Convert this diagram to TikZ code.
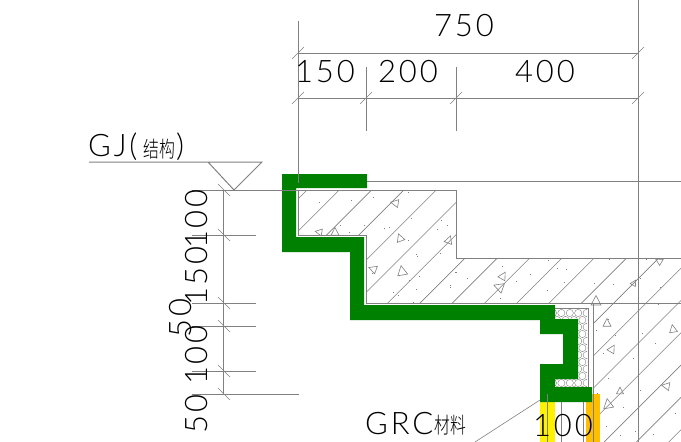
\documentclass[tikz,border=0pt]{standalone}
\usepackage{fontspec}
\newfontfamily\cadfont[LetterSpace=9]{Lato Light}
\newfontfamily\cjkfont{Noto Sans CJK SC Light}
\usepackage{tikz}
\definecolor{cadgray}{RGB}{128,128,128}
\definecolor{cadgreen}{RGB}{0,128,0}
\definecolor{cadorange}{RGB}{255,191,0}

\begin{document}
\begin{tikzpicture}[
      x=1pt, y=-1pt,
      cadline/.style={draw=cadgray, line width=1pt},
      thinline/.style={draw=cadgray, line width=0.6pt},
      dim/.style={font=\cadfont\fontsize{31}{31}\selectfont, inner sep=0pt},
      dimv/.style={dim, rotate=90},
      cjk/.style={font=\cjkfont\fontsize{22}{22}\selectfont, inner sep=0pt, xscale=0.72}
    ]
      \useasboundingbox (0,0) rectangle (681,442);
      % Concrete hatching
      \begin{scope}
        \clip (298,190) -- (456,190) -- (456,258) -- (681,258) -- (681,442) -- (593,442)
          -- (593,303) -- (366,303) -- (366,235) -- (298,235) -- cycle;
        \foreach \k in {0,...,19}
          \draw[thinline] ({497+32.3*\k},0) -- ({497+32.3*\k-442},442);
      \end{scope}
      % Aggregate
      \foreach \tx/\ty/\ta/\ts in {319/232/80/3.5,335/232/0/4,395/203/80/4,400/238/20/4,449/240/-20/4,
          373/269/70/4,402/271/10/5,503/276/-30/4,499/287/70/5,596/301/0/5,659/261/60/3.5,
          634/283/-30/3,607/323/0/4,673/329/10/4,612/349/-30/4,620/391/0/3.5,
          608/404/10/5,666/386/80/4}
        \draw[thinline, shift={(\tx,\ty)}, rotate=\ta, scale=\ts] (0,-1.1) -- (1,0.8) -- (-1,0.8) -- cycle;
      \foreach \dx/\dy in {319/202,351/200,373/197,408/192,411/218,441/220,447/225,437/229,389/227,384/228,
          340/225,364/225,349/232,408/240,416/254,417/256,440/253,456/272,467/278,419/276,409/280,450/285,
          450/287,393/292,398/295,416/289,413/302,372/273,502/266,455/272,530/274,557/268,566/269,516/281,
          564/282,547/290,500/298,594/283,613/284,620/296,640/278,660/287,658/304,609/259,548/260,622/262,
          646/259,593/315,608/319,596/330,615/335,642/333,633/358,655/343,608/378,640/390,623/407,606/426,
          620/435,635/431,675/413,653/434,597/393,603/353}
        \fill[cadgray] (\dx-0.5,\dy-0.5) rectangle (\dx+0.5,\dy+0.5);
      % Concrete outline
      \draw[cadline] (456,190) -- (456,258) -- (681,258);
      \draw[cadline] (298,190) -- (298,235) -- (366,235) -- (366,303) -- (681,303);
      \draw[cadline] (593,303) -- (593,442);
      \draw[cadline] (638,0) -- (638,442);
      % Insulation
      \begin{scope}
        \clip (555,308) -- (587,308) -- (587,387) -- (555,387) -- (555,379) -- (578,379)
          -- (578,319) -- (555,319) -- cycle;
        \foreach \i in {0,...,5}
          \foreach \j in {0,...,12} {
            \draw[draw=cadgray, line width=0.4pt] ({553+8.4*\i+4.2*mod(\j,2)},{313+7*\j}) circle (3.6);
          }
      \end{scope}
      \draw[cadline] (555,308) -- (588,308) -- (588,387);
      % Finish strips
      \fill[yellow] (540,402) rectangle (555,442);
      \fill[cadorange] (586,394) rectangle (600,442);
      \draw[cadline] (593,394) -- (593,442);
      % GRC profile
      \fill[cadgreen] (282,174) -- (367,174) -- (367,188) -- (296,188) -- (296,237) -- (364,237)
        -- (364,305) -- (555,305) -- (555,319) -- (578,319) -- (578,379) -- (555,379) -- (555,387)
        -- (592,387) -- (592,402) -- (540,402) -- (540,364) -- (563,364) -- (563,334) -- (540,334)
        -- (540,320) -- (350,320) -- (350,252) -- (282,252) -- cycle;
      % Dimension lines, top
      \draw[cadline] (298,21) -- (298,183);
      \draw[cadline] (366,67) -- (366,131);
      \draw[cadline] (456,67) -- (456,131);
      \draw[cadline] (298,53) -- (638,53);
      \draw[cadline] (298,98) -- (638,98);
      \draw[cadline] (367,181) -- (681,181);
      \foreach \tx/\ty in {298/53,638/53,298/98,366/98,456/98,638/98}
        \draw[thinline] (\tx-6,\ty+6) -- (\tx+6,\ty-6);
      % Dimension lines, left
      \draw[cadline] (223,190) -- (223,394);
      \draw[cadline] (192,190) -- (456,190);
      \foreach \ty in {235,303,326,371}
        \draw[cadline] (192,\ty) -- (256,\ty);
      \draw[cadline] (192,394) -- (299,394);
      \foreach \ty in {190,235,303,326,371,394}
        \draw[thinline] (218,\ty-6) -- (230,\ty+6);
      % Level mark
      \draw[cadline] (89,162) -- (262,162) -- (234,190) -- (208,162);
      % Bottom lines
      \draw[cadline] (547,394) -- (547,442);
      \draw[cadline] (561,402) -- (561,442);
      \draw[cadline] (583,402) -- (583,442);
      \draw[thinline] (475,442) -- (540,400);
      % Labels
      \node[dim] (dimall) at (464,26) {750};
      \node[dim] (dima) at (325,72) {150};
      \node[dim] (dimb) at (408,72) {200};
      \node[dim] (dimc) at (545,72) {400};
      \node[dimv] (dimd) at (197,219) {100};
      \node[dimv] (dime) at (197,276) {150};
      \node[dimv] (dimf) at (181,318) {50};
      \node[dimv] (dimg) at (197,355) {100};
      \node[dimv] (dimh) at (197,414) {50};
      \node[dim] (dimi) at (563,426) {100};
      \node[dim, anchor=west] (level) at (88,147) {GJ(};
      \node[cjk] (levelcn) at (159,149) {结构};
      \node[dim, anchor=west] (levelend) at (176,147) {)};
      \node[dim, anchor=west] (grc) at (365,424) {GRC};
      \node[cjk] (grccn) at (450,425) {材料};
    \end{tikzpicture}
\end{document}
